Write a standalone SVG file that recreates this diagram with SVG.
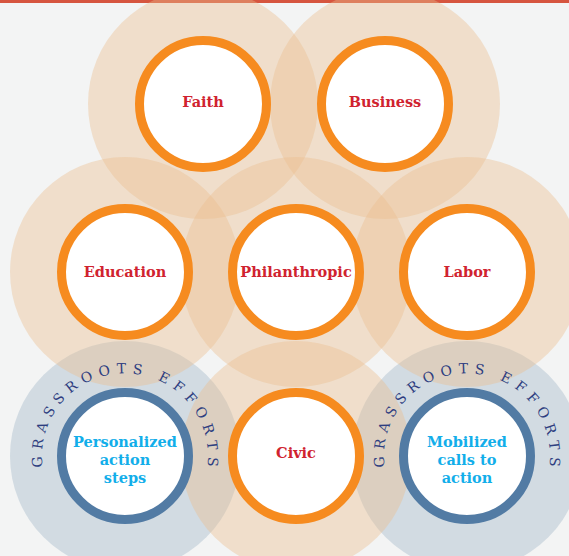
<svg xmlns="http://www.w3.org/2000/svg" width="569" height="556" viewBox="0 0 569 556">
<defs>
<style>
.halo{fill:#ebbf8f;fill-opacity:0.4}
.halob{fill:#b7c6d4;fill-opacity:0.55}
.node{fill:#ffffff;stroke:#f68b1f;stroke-width:9}
.nodeb{fill:#ffffff;stroke:#527ba4;stroke-width:9}
.lbl{font-family:"DejaVu Serif","Liberation Serif",serif;font-weight:bold;font-size:14.5px;fill:#d0232f;text-anchor:middle}
.lblb{font-family:"DejaVu Serif","Liberation Serif",serif;font-weight:bold;font-size:14.5px;fill:#12aeea;text-anchor:middle}
.arc{font-family:"DejaVu Serif","Liberation Serif",serif;font-size:14px;fill:#2e3e80}
</style>
<path id="arcL" d="M 42.7,467 A 83,83 0 1 1 207.3,467"/>
<path id="arcR" d="M 384.7,467 A 83,83 0 1 1 549.3,467"/>
</defs>
<rect x="0" y="0" width="569" height="556" fill="#f3f4f4"/>
<rect x="0" y="0" width="569" height="3" fill="#d6553f"/>
<g id="halos">
<circle class="halob" cx="125" cy="456" r="115"/>
<circle class="halob" cx="467" cy="456" r="115"/>
<circle class="halo" cx="203" cy="104" r="115"/>
<circle class="halo" cx="385" cy="104" r="115"/>
<circle class="halo" cx="125" cy="272" r="115"/>
<circle class="halo" cx="296" cy="272" r="115"/>
<circle class="halo" cx="467" cy="272" r="115"/>
<circle class="halo" cx="296" cy="456" r="115"/>
</g>
<g id="connectors"></g>
<g id="faith"><circle class="node" cx="203" cy="104" r="63.5"/><text class="lbl" x="203" y="107">Faith</text></g>
<g id="business"><circle class="node" cx="385" cy="104" r="63.5"/><text class="lbl" x="385" y="107">Business</text></g>
<g id="education"><circle class="node" cx="125" cy="272" r="63.5"/><text class="lbl" x="125" y="277">Education</text></g>
<g id="philanthropic"><circle class="node" cx="296" cy="272" r="63.5"/><text class="lbl" x="296" y="277">Philanthropic</text></g>
<g id="labor"><circle class="node" cx="467" cy="272" r="63.5"/><text class="lbl" x="467" y="277">Labor</text></g>
<g id="civic"><circle class="node" cx="296" cy="456" r="63.5"/><text class="lbl" x="296" y="458">Civic</text></g>
<g id="personalized">
<circle class="nodeb" cx="125" cy="456" r="63.5"/>
<text class="lblb" x="125" y="447">Personalized</text>
<text class="lblb" x="125" y="465">action</text>
<text class="lblb" x="125" y="483">steps</text>
<text class="arc"><textPath href="#arcL" textLength="281" lengthAdjust="spacing">GRASSROOTS EFFORTS</textPath></text>
</g>
<g id="mobilized">
<circle class="nodeb" cx="467" cy="456" r="63.5"/>
<text class="lblb" x="467" y="447">Mobilized</text>
<text class="lblb" x="467" y="465">calls to</text>
<text class="lblb" x="467" y="483">action</text>
<text class="arc"><textPath href="#arcR" textLength="281" lengthAdjust="spacing">GRASSROOTS EFFORTS</textPath></text>
</g>
</svg>
